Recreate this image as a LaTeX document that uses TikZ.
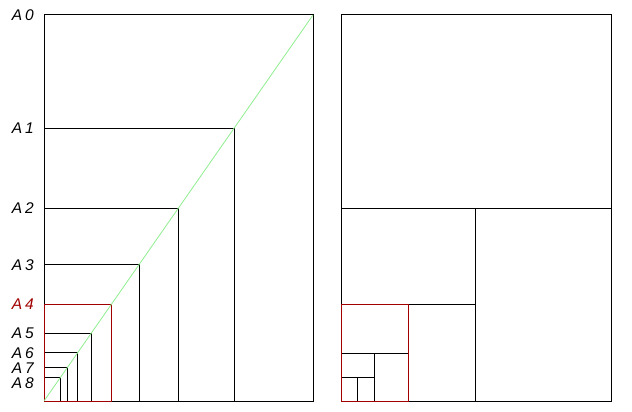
\documentclass[tikz,border=0pt]{standalone}
\usepackage{fontspec}
\newfontfamily\labfont{Liberation Sans}
\definecolor{dred}{HTML}{A00000}
\definecolor{lgreen}{HTML}{90EE90}
\tikzset{
  frame/.style={draw=black,line width=1pt},
  redframe/.style={draw=dred,line width=1pt},
  diag/.style={draw=lgreen,line width=0.8pt},
  lab/.style={anchor=east,inner sep=0pt,font=\labfont\itshape\fontsize{15.5}{15.5}\selectfont},
}
\begin{document}
\begin{tikzpicture}[x=1pt,y=-1pt]
\useasboundingbox (0,0) rectangle (632,412);
% left panel: nested rectangles
\foreach \t/\r in {15/313, 128/234, 208/178, 264.5/139, 333/91.6, 352.7/77.6, 367/67.8, 377/60.8}{
  \draw[frame] (44,401) rectangle (\r,\t);
}
\draw[redframe] (44,401) rectangle (111,304.5);
\draw[diag] (44,401) -- (313,15);
% labels
\node[lab] (l0) at (34,15) {A\kern3pt 0};
\node[lab] (l1) at (34,128) {A\kern3pt 1};
\node[lab] (l2) at (34,208) {A\kern3pt 2};
\node[lab] (l3) at (34,265) {A\kern3pt 3};
\node[lab,text=dred] (l4) at (34,304) {A\kern3pt 4};
\node[lab] (l5) at (34,333) {A\kern3pt 5};
\node[lab] (l6) at (34,353) {A\kern3pt 6};
\node[lab] (l7) at (34,368) {A\kern3pt 7};
\node[lab] (l8) at (34,383) {A\kern3pt 8};
% right panel: subdivision
\draw[frame] (341,15) rectangle (611,401);
\draw[frame] (341,208) -- (611,208);
\draw[frame] (475.5,208) -- (475.5,401);
\draw[frame] (341,304.5) -- (475.5,304.5);
\draw[frame] (341,353) -- (408,353);
\draw[frame] (374.5,353) -- (374.5,401);
\draw[frame] (341,377) -- (374.5,377);
\draw[frame] (357.8,377) -- (357.8,401);
\draw[redframe] (341,401) rectangle (408,304.5);
\end{tikzpicture}
\end{document}
